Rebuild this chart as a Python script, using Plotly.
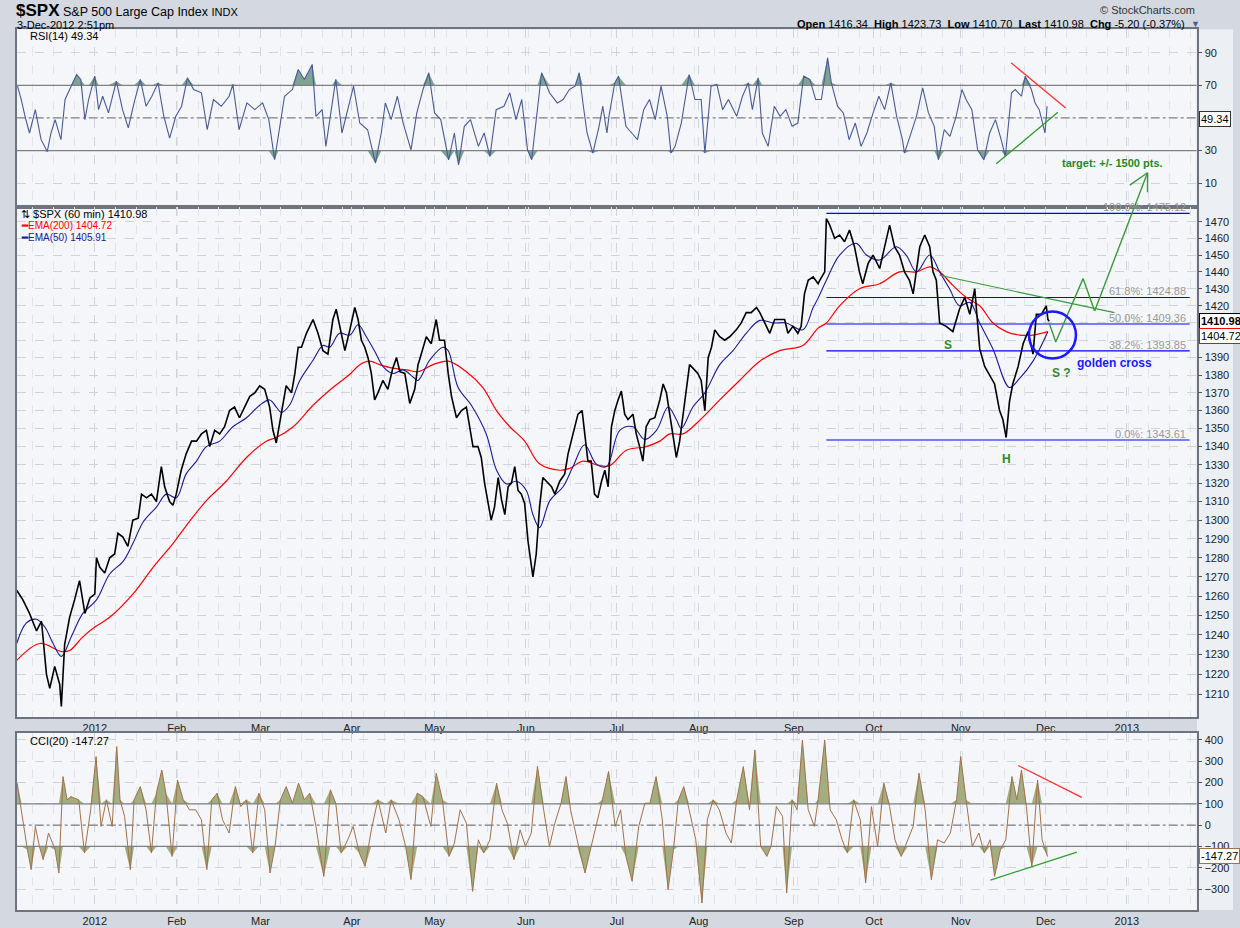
import math
import numpy as np
import plotly.graph_objects as go

# ---------------- DATA (x = trading days since 5-Dec-2011) ----------------
price_day = [0,1.5,3.1,4.8,6.0,7.2,8.0,9.2,10.4,10.8,11.6,12.8,14.0,15.2,16.5,17.7,18.9,19.3,20.1,21.3,22.5,23.7,24.5,25.7,26.9,28.1,29.4,30.2,31.4,32.6,33.8,35.0,35.8,37.0,37.8,38.6,39.8,41.0,42.3,43.5,44.7,45.9,46.7,47.9,49.1,50.3,51.5,52.7,53.9,55.2,56.4,57.6,58.8,60.0,61.2,62.0,62.8,64.0,65.2,66.5,67.3,68.1,68.9,70.1,71.7,72.9,74.1,75.3,76.5,77.3,78.1,79.4,80.6,81.8,82.6,83.4,84.2,85.0,85.8,86.6,87.4,88.6,89.8,91.0,91.9,92.7,93.9,95.1,96.3,97.1,
 97.5,99.1,100.3,101.5,102.3,103.5,104.4,105.2,106.4,107.6,108.8,109.6,110.4,111.6,112.4,113.2,114.0,114.8,115.6,116.5,117.3,118.1,118.9,119.7,120.5,121.3,122.1,122.9,123.7,124.5,124.9,125.7,126.5,127.3,128.5,129.4,130.2,131.4,132.6,133.4,134.6,135.8,136.8,137.4,138.2,139.0,139.8,140.6,141.5,142.3,143.1,143.9,144.7,145.5,146.3,147.1,147.9,149.1,149.9,150.7,151.5,152.3,153.2,154.4,155.6,156.4,157.2,158.0,158.8,159.6,160.4,161.2,162.0,162.8,163.6,164.8,165.6,166.5,167.3,168.1,168.9,170.1,171.3,172.5,174.1,175.3,176.5,177.7,179.0,179.8,181.0,182.2,183.4,184.6,185.8,186.6,187.8,189.0,189.8,190.6,191.5,192.7,193.9,
 194.3,195.5,195.9,196.7,197.9,199.1,200.3,201.5,202.7,203.9,204.7,206.0,207.2,208.8,210.0,211.2,212.4,213.6,214.8,216.0,216.9,217.7,218.5,219.7,220.9,221.7,222.5,223.3,224.9,226.5,228.1,229.4,230.6,231.8,232.6,233.0,234.2,235.4,236.6,237.8,238.6,239.4,240.2,241.0,242.3,243.5,244.7,245.9,246.7,247.9,249.1,249.5,249.8]
price_close = [1263,1258,1251,1242,1247,1220,1213,1224,1215,1204,1235,1249,1258,1268,1251,1259,1261,1280,1275,1272,1280,1282,1293,1291,1286,1300,1301,1314,1312,1314,1310,1329,1318,1310,1308,1314,1327,1336,1343,1343,1347,1349,1340,1349,1347,1351,1360,1362,1356,1362,1368,1370,1374,1372,1362,1349,1342,1358,1374,1370,1381,1396,1396,1404,1412,1404,1394,1392,1412,1418,1408,1394,1406,1419,1412,1400,1396,1390,1381,1366,1370,1377,1372,1384,1390,1382,1381,1364,1372,1386,
 1389,1402,1398,1412,1400,1400,1381,1368,1356,1360,1362,1351,1340,1340,1334,1320,1311,1300,1307,1323,1311,1303,1318,1320,1329,1316,1314,1309,1289,1275,1270,1282,1307,1323,1320,1318,1314,1321,1325,1336,1347,1358,1360,1349,1332,1332,1314,1312,1321,1327,1318,1351,1360,1366,1371,1358,1355,1358,1347,1340,1332,1351,1355,1356,1366,1375,1370,1358,1347,1334,1343,1358,1370,1386,1384,1381,1377,1360,1390,1396,1406,1402,1400,1402,1406,1410,1416,1416,1419,1416,1410,1404,1412,1412,1412,1404,1408,1404,1408,1427,1435,1437,1433,
 1435,1440,1472,1468,1460,1462,1458,1465,1455,1440,1433,1445,1450,1442,1455,1468,1455,1450,1440,1435,1427,1440,1455,1462,1455,1440,1435,1410,1408,1405,1418,1425,1415,1430,1405,1395,1385,1380,1375,1360,1355,1345,1365,1375,1385,1398,1405,1392,1415,1415,1420,1412,1411]

ema200_day = [0,5.6,10.8,12.8,16.0,18.9,22.5,28.1,33.0,37.8,41.0,45.9,50.7,55.6,60.4,62.8,66.9,71.7,76.5,80.6,83.0,85.4,87.8,91.0,94.3,97.1,100.7,104.4,108.8,112.8,116.1,119.3,122.9,126.5,131.4,133.8,137.0,141.0,143.5,147.5,152.3,155.6,158.0,161.2,165.2,170.1,174.9,179.8,184.6,190.2,193.9,195.9,199.1,203.9,208.8,213.6,217.7,220.9,223.3,226.5,229.7,233.0,236.2,239.4,242.6,245.9,249.5]
ema200_val = [1227,1235.6,1231.5,1232,1239,1244,1249,1261,1275,1287.5,1297,1310.5,1321,1334,1343,1345,1351,1363,1373,1380.5,1386,1388,1386,1384,1383,1382,1386,1388,1382,1373,1360,1351,1343,1330.5,1327,1328,1332,1329.5,1329.5,1338,1340,1343,1347,1347,1354.5,1366,1377,1388,1394,1397,1407,1410,1420,1430,1433,1440,1440,1443,1440,1432,1425,1420,1410,1405,1403,1403,1405]

ema50_day = [0,2.3,4.8,6.8,8.8,10.8,13.2,16.0,19.3,22.5,25.7,28.1,30.6,33.8,36.2,38.6,41.0,43.5,45.9,49.1,52.3,55.6,58.8,61.2,62.8,64.0,66.0,68.5,71.7,74.1,75.7,78.1,80.6,82.6,84.6,87.0,88.6,91.0,93.5,95.9,97.1,99.9,103.1,104.4,106.8,110.0,113.6,116.1,118.5,120.9,123.3,124.9,126.5,129.0,132.2,134.6,137.4,140.2,142.7,145.9,149.1,151.9,154.8,157.6,159.6,160.8,163.6,166.5,170.1,173.3,176.5,179.8,183.0,186.2,190.2,192.7,193.9,195.9,199.1,203.1,205.6,208.8,212.8,215.2,217.7,220.9,223.3,225.7,228.1,230.6,233.0,236.2,240.2,242.6,245.9,249.5]
ema50_val = [1235.6,1246,1248,1244,1235.6,1229,1239,1251,1258,1271.5,1278,1287.5,1299,1307,1314,1312,1325,1332,1340,1343,1351,1356,1363,1366,1362,1359,1363,1377,1388.5,1397,1396,1404,1403,1409,1402,1392,1385,1381,1383,1379,1377,1388.5,1396,1394,1373,1363,1347,1327,1319.5,1321,1316,1303,1296,1310.5,1318,1329,1341,1330.5,1329,1349,1351,1344,1349,1362,1355,1350,1362,1370,1386,1394,1404,1411.5,1410,1410,1406,1419,1424.5,1435,1450,1457,1450,1447,1455,1450,1440,1450,1440,1430,1420,1422,1410,1395,1373,1378,1388,1405]

rsi_day = [0.2,1.1,2.1,3.1,4.5,5.9,7.4,8.3,9.3,10.7,11.7,13.1,14.5,15.5,16.5,17.4,18.9,19.8,20.8,22.2,24.1,25.6,27.0,28.4,29.9,31.3,32.7,34.2,35.6,37.0,38.5,39.9,41.3,42.8,44.7,46.1,47.6,49.5,51.4,52.3,53.8,55.7,57.6,59.5,61.0,62.4,63.3,64.8,66.7,68.1,69.6,71.5,72.4,73.9,74.8,76.3,77.2,78.7,80.1,81.5,83.0,84.9,86.8,88.2,89.2,90.6,92.1,93.5,95.4,96.8,98.3,99.7,101.1,102.6,104.5,105.9,106.9,108.3,109.8,111.7,113.1,114.5,116.0,117.9,119.3,120.8,122.2,123.6,124.6,126.0,127.0,128.9,130.8,132.2,133.7,135.1,136.1,137.0,138.0,139.4,140.9,141.8,142.8,143.3,144.7,145.6,
 147.4,148.8,150.2,151.7,153.1,154.5,155.9,157.4,158.3,159.3,160.8,162.7,164.1,165.6,166.5,168.0,169.4,170.8,172.2,174.2,175.6,177.0,178.0,179.4,180.4,181.8,183.3,184.7,186.1,187.6,189.0,190.4,191.9,193.3,194.7,196.2,197.1,198.6,200.0,201.4,202.9,204.3,205.7,207.2,208.6,210.0,211.5,212.9,214.3,214.8,216.3,217.7,219.2,220.6,222.0,223.0,224.4,225.8,227.3,228.7,229.7,231.1,232.5,234.0,235.4,236.8,238.2,239.2,240.7,241.6,243.1,244.0,245.5,246.4,247.4,248.8,249.3]
rsi_val = [69.5,61.3,50.0,40.8,55.1,36.7,29.5,40.8,49.0,36.7,61.3,69.5,76.6,73.6,49.0,61.3,75.6,55.1,63.3,53.1,72.5,55.1,43.9,59.2,73.6,57.2,63.3,71.5,51.0,37.7,51.0,57.2,74.6,67.4,65.4,42.8,61.3,57.2,63.3,70.5,42.8,59.2,55.1,59.2,49.0,24.4,38.7,63.3,67.4,79.7,73.6,82.8,51.0,55.1,32.6,59.2,73.6,40.8,55.1,69.5,46.9,42.8,22.3,40.8,59.2,49.0,63.3,46.9,30.5,53.1,67.4,77.7,53.1,49.0,24.4,40.8,21.3,44.9,49.0,32.6,40.8,26.4,55.1,57.2,65.4,49.0,61.3,30.5,24.4,55.1,77.7,65.4,59.2,61.3,67.4,69.5,77.7,59.2,40.8,28.5,44.9,57.2,40.8,51.0,71.5,75.6,
 44.9,40.8,36.7,55.1,61.3,49.0,69.5,51.0,28.5,32.6,46.9,76.6,61.3,61.3,28.5,69.5,70.5,55.1,61.3,51.0,63.3,71.5,55.1,74.6,40.8,32.6,57.2,51.0,55.1,44.9,46.9,75.6,73.6,61.3,61.3,86.9,71.5,57.2,53.1,36.7,46.9,32.6,40.8,53.1,63.3,55.1,71.5,51.0,36.7,28.5,40.8,51.0,68.4,53.1,44.9,24.4,42.8,38.7,51.0,67.4,61.3,55.1,30.5,24.4,40.8,49.0,36.7,26.4,65.4,67.4,63.3,75.6,67.4,59.2,55.1,40.8,57.2,49.3]

cci_day = [0.1,1.2,2.6,3.5,4.5,5.5,6.4,7.7,9.3,10.2,11.2,12.2,13.1,15.0,16.4,17.9,19.2,20.4,21.7,23.1,24.2,25.0,26.1,27.5,28.4,29.9,31.3,32.6,33.8,35.1,36.1,37.6,38.9,40.3,41.8,43.3,44.7,46.0,47.2,48.5,49.8,51.4,52.9,54.2,55.6,57.1,58.6,60.0,61.3,62.5,63.8,65.2,66.7,68.2,69.6,70.9,72.4,74.3,75.9,77.2,78.5,80.1,81.4,82.9,84.3,85.8,87.4,89.3,90.6,92.5,94.1,95.4,96.9,98.3,100.2,101.5,103.0,104.6,105.9,107.3,108.8,110.3,111.7,113.0,114.5,116.1,117.4,118.7,120.3,121.8,123.1,124.5,126.0,127.5,128.9,130.2,131.7,132.9,134.0,135.6,137.5,139.0,140.4,141.7,143.2,144.8,146.1,147.4,148.9,150.5,152.0,153.2,154.7,156.2,157.6,158.9,160.1,161.4,162.7,164.3,165.8,167.1,168.5,170.0,171.6,172.9,174.2,175.8,177.3,178.6,180.0,181.5,182.5,183.8,185.3,186.3,187.6,188.8,190.1,191.5,193.0,193.9,195.5,196.8,198.3,199.7,201.0,202.5,204.1,205.4,206.8,208.3,209.8,211.2,212.5,214.0,215.6,216.9,218.3,219.8,221.3,222.8,224.4,225.9,227.4,228.4,229.7,231.2,232.8,234.1,235.5,236.6,238.0,239.3,240.8,242.0,243.1,244.3,245.6,247.0,248.1,249.4]
cci_val = [197,56,-116,-209,-6,-100,-162,-37,-116,-225,228,119,134,119,-131,72,322,-6,119,-6,369,119,41,-209,119,181,72,-131,150,259,150,-147,212,119,72,72,25,-209,119,150,25,-37,181,87,119,-131,150,72,-225,-100,119,181,103,197,119,150,-6,-241,166,103,-131,-69,-6,-131,-194,-22,119,-37,119,25,-100,-256,150,134,-6,244,119,-147,-84,72,9,-311,-69,-131,-69,197,72,9,-162,-22,-100,-37,275,72,-100,9,103,228,72,-69,-225,-100,9,119,252,-6,72,-147,-264,-6,103,103,228,25,-303,-116,119,181,72,-69,-366,25,119,72,-37,-84,119,275,72,353,-100,-147,-100,87,41,-319,119,72,400,72,-6,119,400,72,25,-69,-131,119,25,-272,87,-100,197,87,-69,-147,-69,-6,244,72,-256,-69,-84,-37,119,322,119,-100,-37,-131,-69,-241,-116,-69,228,119,259,87,-194,212,-69,-147.27]

month_days = [18.9,38.7,59.0,81.1,101.1,123.2,145.2,165.0,188.0,207.4,228.4,249.0,268.6]
month_labels = ["2012","Feb","Mar","Apr","May","Jun","Jul","Aug","Sep","Oct","Nov","Dec","2013"]

fib_levels = [1475.12, 1424.88, 1409.36, 1393.85, 1343.61]
fib_labels = ["100.0%: 1475.12", "61.8%: 1424.88", "50.0%: 1409.36", "38.2%: 1393.85", "0.0%: 1343.61"]
fib_span = [195.9, 283.8]

neck_day = [223.3, 265.6]; neck_val = [1438, 1416]
proj_day = [249.8, 251.4, 258.0, 260.8]; proj_val = [1410, 1399, 1436, 1417]
target_day = [260.8, 273.6]; target_val = [1417, 1500]
target_barb = [269.3, 1492.4]; target_tail = 1488

rsi_red = ([240.6, 253.8], [83.8, 56.1]); rsi_green = ([237.0, 251.9], [21.9, 53.5])
cci_red = ([242.3, 257.7], [280, 130]); cci_green = ([235.6, 256.5], [-258, -127])

# ---------------- LAYOUT GEOMETRY ----------------
W, H = 1240, 928
XD = [16.7/W, 1196.7/W]
RD = [1-207.3/H, 1-29.3/H]
PD = [1-717.3/H, 1-207.3/H]
CD = [1-910/H, 1-732.7/H]
XR = [0, 285.5]
PR = [1198.6, 1478.8]
RR = [-4.7, 104.3]
CR = [-398.6, 434]

def to_paper(day, price):
    xp = XD[0] + (day-XR[0])/(XR[1]-XR[0])*(XD[1]-XD[0])
    lp = (math.log10(price)-math.log10(PR[0]))/(math.log10(PR[1])-math.log10(PR[0]))
    return xp, PD[0] + lp*(PD[1]-PD[0])

FONT = "Liberation Sans"
GRID = "#cfd3da"
fig = go.Figure()

# RSI panel
rsi = np.array(rsi_val)
fig.add_trace(go.Scatter(x=rsi_day, y=[70]*len(rsi), mode="lines", line=dict(width=0), xaxis="x", yaxis="y", hoverinfo="skip"))
fig.add_trace(go.Scatter(x=rsi_day, y=np.maximum(rsi, 70), mode="lines", line=dict(width=0), fill="tonexty", fillcolor="#7fa393", xaxis="x", yaxis="y"))
fig.add_trace(go.Scatter(x=rsi_day, y=[30]*len(rsi), mode="lines", line=dict(width=0), xaxis="x", yaxis="y"))
fig.add_trace(go.Scatter(x=rsi_day, y=np.minimum(rsi, 30), mode="lines", line=dict(width=0), fill="tonexty", fillcolor="#7fa393", xaxis="x", yaxis="y"))
for lv, dash in [(70, "solid"), (30, "solid"), (50, "dashdot")]:
    fig.add_trace(go.Scatter(x=XR, y=[lv, lv], mode="lines", line=dict(color="#808080", width=1.2, dash=dash), xaxis="x", yaxis="y"))
fig.add_trace(go.Scatter(x=rsi_day, y=rsi_val, mode="lines", line=dict(color="#4a5a96", width=1.1), xaxis="x", yaxis="y"))
fig.add_trace(go.Scatter(x=rsi_red[0], y=rsi_red[1], mode="lines", line=dict(color="#ff3030", width=1.3), xaxis="x", yaxis="y"))
fig.add_trace(go.Scatter(x=rsi_green[0], y=rsi_green[1], mode="lines", line=dict(color="#2ca02c", width=1.3), xaxis="x", yaxis="y"))

# Price panel
for lv in fib_levels:
    fig.add_trace(go.Scatter(x=fib_span, y=[lv, lv], mode="lines", line=dict(color="#0000ff", width=1.1), xaxis="x2", yaxis="y2"))
fig.add_trace(go.Scatter(x=ema200_day, y=ema200_val, mode="lines", line=dict(color="#ff0000", width=1.2, shape="spline"), xaxis="x2", yaxis="y2"))
fig.add_trace(go.Scatter(x=ema50_day, y=ema50_val, mode="lines", line=dict(color="#1a1a9a", width=1.1, shape="spline"), xaxis="x2", yaxis="y2"))
fig.add_trace(go.Scatter(x=price_day, y=price_close, mode="lines", line=dict(color="#000000", width=1.6), xaxis="x2", yaxis="y2"))
fig.add_trace(go.Scatter(x=neck_day, y=neck_val, mode="lines", line=dict(color="#3a9a3a", width=1.2), xaxis="x2", yaxis="y2"))
fig.add_trace(go.Scatter(x=proj_day, y=proj_val, mode="lines", line=dict(color="#3a9a3a", width=1.4), xaxis="x2", yaxis="y2"))

# CCI panel
cci = np.array(cci_val)
fig.add_trace(go.Scatter(x=cci_day, y=[100]*len(cci), mode="lines", line=dict(width=0), xaxis="x3", yaxis="y3"))
fig.add_trace(go.Scatter(x=cci_day, y=np.maximum(cci, 100), mode="lines", line=dict(width=0), fill="tonexty", fillcolor="#a3ad80", xaxis="x3", yaxis="y3"))
fig.add_trace(go.Scatter(x=cci_day, y=[-100]*len(cci), mode="lines", line=dict(width=0), xaxis="x3", yaxis="y3"))
fig.add_trace(go.Scatter(x=cci_day, y=np.minimum(cci, -100), mode="lines", line=dict(width=0), fill="tonexty", fillcolor="#a3ad80", xaxis="x3", yaxis="y3"))
for lv, dash in [(100, "solid"), (-100, "solid"), (0, "dashdot")]:
    fig.add_trace(go.Scatter(x=XR, y=[lv, lv], mode="lines", line=dict(color="#808080", width=1.2, dash=dash), xaxis="x3", yaxis="y3"))
fig.add_trace(go.Scatter(x=cci_day, y=cci_val, mode="lines", line=dict(color="#a0724c", width=1), xaxis="x3", yaxis="y3"))
fig.add_trace(go.Scatter(x=cci_red[0], y=cci_red[1], mode="lines", line=dict(color="#ff3030", width=1.3), xaxis="x3", yaxis="y3"))
fig.add_trace(go.Scatter(x=cci_green[0], y=cci_green[1], mode="lines", line=dict(color="#2ca02c", width=1.3), xaxis="x3", yaxis="y3"))

def xax(domain, anchor, show):
    return dict(domain=domain, range=XR, anchor=anchor, tickmode="array", tickvals=month_days, ticktext=month_labels,
                showticklabels=show, ticks="", showgrid=True, gridcolor=GRID, griddash="dash", gridwidth=1,
                minor=dict(dtick=5, tick0=3.9, showgrid=True, gridcolor="#e1e4ea", griddash="dash"),
                zeroline=False, showline=True, linecolor="#6d7480", linewidth=1.5, mirror=True,
                tickfont=dict(family=FONT, size=11, color="#222"))

def yax(domain, anchor, rng, vals, typ="linear", text=None):
    d = dict(domain=domain, range=rng, anchor=anchor, side="right", tickmode="array", tickvals=vals,
             ticks="outside", ticklen=4, tickcolor="#555", showgrid=True, gridcolor=GRID, griddash="dash",
             zeroline=False, showline=True, linecolor="#6d7480", linewidth=1.5, mirror=True, type=typ,
             tickfont=dict(family=FONT, size=11, color="#222"))
    if text: d["ticktext"] = text
    return d

price_ticks = list(range(1210, 1480, 10))
price_tick_text = ["" if v == 1410 else str(v) for v in price_ticks]  # 1410 is hidden behind the last-value box
fig.update_layout(
    width=W, height=H, margin=dict(l=0, r=0, t=0, b=0), showlegend=False,
    paper_bgcolor="#d3d8e1", plot_bgcolor="#f4f6fa",
    xaxis=xax(XD, "y", False), yaxis=yax(RD, "x", RR, [10, 30, 70, 90]),
    xaxis2=xax(XD, "y2", True), yaxis2=yax(PD, "x2", [math.log10(PR[0]), math.log10(PR[1])], price_ticks, "log", price_tick_text),
    xaxis3=xax(XD, "y3", True), yaxis3=yax(CD, "x3", CR, [-300, -200, -100, 0, 100, 200, 300, 400]),
)

ann = []
def A(x, y, text, size=11, color="#000", xa="left", ya="middle", xref="paper", yref="paper", **kw):
    ann.append(dict(x=x, y=y, xref=xref, yref=yref, text=text, showarrow=False, xanchor=xa, yanchor=ya,
                    font=dict(family=FONT, size=size, color=color), **kw))

A(14/W, 1-10/H, "<span style='font-size:17px'><b>$SPX</b></span> S&P 500 Large Cap Index <span style='font-size:11px'>INDX</span>", 12.5)
A(15/W, 1-24.5/H, "3-Dec-2012 2:51pm", 11)
A(1197/W, 1-10/H, "© StockCharts.com", 11, "#333", xa="right")
A(1187/W, 1-24/H, "<b>Open</b> 1416.34  <b>High</b> 1423.73  <b>Low</b> 1410.70  <b>Last</b> 1410.98  <b>Chg</b> -5.20 (-0.37%)", 11, xa="right")
A(1189/W, 1-24/H, "▼", 9, "#4a5a96")
A(28/W, 1-36/H, "RSI(14) 49.34", 11)
A(19/W, 1-214/H, "⇅ $SPX (60 min) 1410.98", 11)
A(19/W, 1-226/H, "<b>━</b>EMA(200) 1404.72", 10, "#ff0000")
A(19/W, 1-237/H, "<b>━</b>EMA(50) 1405.91", 10, "#1a1a9a")
A(28/W, 1-741/H, "CCI(20) -147.27", 11)

for lv, lab in zip(fib_levels, fib_labels):
    ann.append(dict(x=283.5, y=math.log10(lv), xref="x2", yref="y2", text=lab, showarrow=False, xanchor="right", yanchor="bottom",
                    font=dict(family=FONT, size=11, color="#999"), yshift=-2))
A(225.3, math.log10(1397), "<b>S</b>", 12, "#2e8b2e", xa="center", xref="x2", yref="y2")
A(239.4, math.log10(1333.3), "<b>H</b>", 12, "#2e8b2e", xa="center", xref="x2", yref="y2")
A(252.7, math.log10(1381.2), "<b>S ?</b>", 12, "#2e8b2e", xa="center", xref="x2", yref="y2")
A(265.6, math.log10(1387), "<b>golden cross</b>", 12, "#1a1aff", xa="center", xref="x2", yref="y2")
A(1112/W, 1-163/H, "<b>target: +/- 1500 pts.</b>", 11, "#1f8a1f", xa="center")

A(1199/W, to_paper(0, 1410.98)[1], "<b>1410.98</b>", 11, "#000", bordercolor="#000", bgcolor="#fff", borderpad=1)
A(1199/W, to_paper(0, 1404.72)[1] - 0.004, "1404.72", 11, "#000", bordercolor="#ff0000", bgcolor="#fff", borderpad=1)
A(1199/W, RD[0] + (49.34-RR[0])/(RR[1]-RR[0])*(RD[1]-RD[0]), "49.34", 11, "#000", bordercolor="#333", bgcolor="#fff", borderpad=1)
A(1199/W, CD[0] + (-147.27-CR[0])/(CR[1]-CR[0])*(CD[1]-CD[0]), "-147.27", 11, "#000", bordercolor="#a0724c", bgcolor="#fff", borderpad=1)

shapes = []
shapes.append(dict(type="rect", xref="paper", yref="paper", x0=1197/W, x1=1233/W, y0=CD[0], y1=RD[1],
                   fillcolor="#eceff4", line=dict(width=0), layer="below"))
cx, cy = to_paper(250.6, 1403)
rx, ry = 23.5/W, 23.5/H
shapes.append(dict(type="circle", xref="paper", yref="paper", x0=cx-rx, x1=cx+rx, y0=cy-ry, y1=cy+ry,
                   line=dict(color="#1a1aff", width=2.5)))
p0 = to_paper(target_day[0], target_val[0]); p1 = to_paper(target_day[1], target_val[1])
pb = to_paper(*target_barb); pt = to_paper(target_day[1], target_tail)
for a, b in [(p0, p1), (pb, p1), (p1, pt)]:
    shapes.append(dict(type="line", xref="paper", yref="paper", x0=a[0], y0=a[1], x1=b[0], y1=b[1],
                       line=dict(color="#3a9a3a", width=1.4)))
fig.update_layout(annotations=ann, shapes=shapes)
fig.write_html("out.html", config={"displayModeBar": False})

with open("out.html", encoding="utf-8") as f:
    html = f.read()
html = html.replace("<head>", "<head><style>html,body{margin:0;padding:0;overflow:hidden;}</style>", 1)
with open("out.html", "w", encoding="utf-8") as f:
    f.write(html)
